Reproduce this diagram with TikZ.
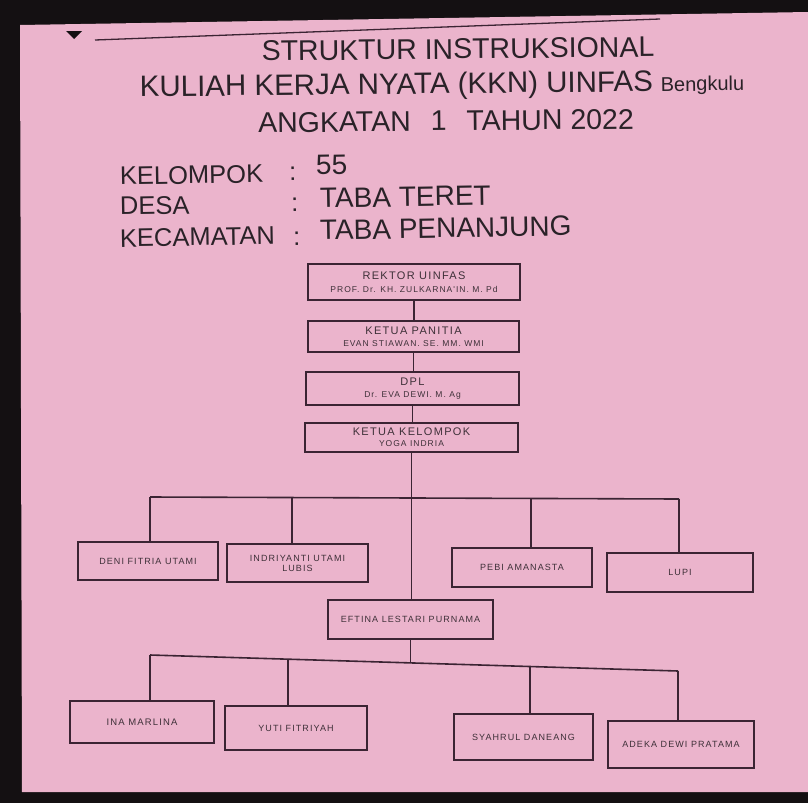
\documentclass[tikz,border=0pt]{standalone}
\usepackage{fontspec}
\setmainfont{Liberation Sans}
\newfontfamily\handfont[LetterSpace=12]{Liberation Sans}
\definecolor{paper}{HTML}{EBB4CC}
\definecolor{bgdark}{HTML}{141012}
\definecolor{linec}{HTML}{3B2433}
\definecolor{textc}{HTML}{3E3038}
\definecolor{titlec}{HTML}{2A2228}
\tikzset{
  orgbox/.style={draw=linec, line width=1.6pt, inner sep=0pt, align=center, text=textc},
  wire/.style={draw=linec, line width=1.6pt},
  headtext/.style={text=titlec, inner sep=0pt, font=\fontsize{28.5}{30}\selectfont},
  labeltext/.style={text=titlec, inner sep=0pt, font=\fontsize{25.5}{27}\selectfont},
  valuetext/.style={text=titlec, inner sep=0pt, font=\fontsize{28}{30}\selectfont},
}
\newcommand{\subl}[1]{{\fontsize{8.5}{10}\selectfont #1}}
\newcommand{\boxhead}[1]{{\handfont\fontsize{11}{13}\selectfont #1}}
\begin{document}
\begin{tikzpicture}[x=1pt,y=-1pt]
\useasboundingbox (0,0) rectangle (808,803);
\fill[bgdark] (0,0) rectangle (808,803);
\fill[paper] (20,25) -- (808,12) -- (808,792) -- (22,792) -- cycle;
\fill[bgdark] (66,31) -- (82,31) -- (74,39) -- cycle;
\coordinate (tl1) at (95,40);
\coordinate (tl2) at (660,19);
\draw[draw=linec, line width=1.3pt] (tl1) -- (tl2);

% titles
\node[headtext, rotate=0.6] (t1) at (458,49) {STRUKTUR INSTRUKSIONAL};
\node[headtext, rotate=0.6] (t2) at (442,86) {{\fontsize{29.5}{30}\selectfont KULIAH KERJA NYATA (KKN) UINFAS} {\fontsize{20}{20}\selectfont Bengkulu}};
\node[headtext, rotate=0.6] (t3) at (446,121) {ANGKATAN\hspace{0.7em}1\hspace{0.7em}TAHUN 2022};

% info block
\node[labeltext, anchor=base west, rotate=1] (l1) at (120,185) {KELOMPOK};
\node[labeltext, anchor=base west, rotate=1] (l2) at (120,215) {DESA};
\node[labeltext, anchor=base west, rotate=1] (l3) at (120,247) {KECAMATAN};
\node[labeltext, anchor=base, rotate=1] (c1) at (293,180) {:};
\node[labeltext, anchor=base, rotate=1] (c2) at (295,211) {:};
\node[labeltext, anchor=base, rotate=1] (c3) at (297,245) {:};
\node[valuetext, anchor=base west, rotate=1] (v1) at (316,175) {55};
\node[valuetext, anchor=base west, rotate=1] (v2) at (320,208) {TABA TERET};
\node[valuetext, anchor=base west, rotate=1] (v3) at (320,240) {TABA PENANJUNG};

% top chain
\node[orgbox, minimum width=212pt, minimum height=36pt] (rektor) at (414,282)
  {\boxhead{REKTOR UINFAS}\\[1pt]{\handfont\subl{PROF. Dr. KH. ZULKARNA'IN. M. Pd}}};
\node[orgbox, minimum width=211pt, minimum height=31pt] (panitia) at (413.5,336.5)
  {\boxhead{KETUA PANITIA}\\[0pt]{\handfont\subl{EVAN STIAWAN. SE. MM. WMI}}};
\node[orgbox, minimum width=213pt, minimum height=33pt] (dpl) at (412.5,388.5)
  {\boxhead{DPL}\\[0pt]{\handfont\subl{Dr. EVA DEWI. M. Ag}}};
\node[orgbox, minimum width=213pt, minimum height=29pt] (kk) at (411.5,437.5)
  {\boxhead{KETUA KELOMPOK}\\[-1pt]{\handfont\subl{YOGA INDRIA}}};

\draw[wire] (rektor.south) -- (rektor.south |- panitia.north);
\draw[wire] (panitia.south) -- (panitia.south |- dpl.north);
\draw[wire] (dpl.south) -- (dpl.south |- kk.north);

% members row 1
\node[orgbox, minimum width=140pt, minimum height=38pt, font=\handfont\fontsize{9}{10}\selectfont] (deni) at (148,561) {DENI FITRIA UTAMI};
\node[orgbox, minimum width=141pt, minimum height=38pt, font=\handfont\fontsize{9}{10}\selectfont] (indri) at (297.5,563) {INDRIYANTI UTAMI\\LUBIS};
\node[orgbox, minimum width=140pt, minimum height=39pt, font=\handfont\fontsize{9}{10}\selectfont] (pebi) at (522,567.5) {PEBI AMANASTA};
\node[orgbox, minimum width=146pt, minimum height=39pt, font=\handfont\fontsize{9}{10}\selectfont] (lupi) at (680,572.5) {LUPI};

% eftina
\node[orgbox, minimum width=165pt, minimum height=39pt, font=\handfont\fontsize{9}{10}\selectfont] (eftina) at (410.5,619.5) {EFTINA LESTARI PURNAMA};

% members row 2
\node[orgbox, minimum width=144pt, minimum height=42pt, font=\handfont\fontsize{9.5}{11}\selectfont] (ina) at (142,722) {INA MARLINA};
\node[orgbox, minimum width=142pt, minimum height=44pt, font=\handfont\fontsize{9}{10}\selectfont] (yuti) at (296,728) {YUTI FITRIYAH};
\node[orgbox, minimum width=139pt, minimum height=46pt, font=\handfont\fontsize{9}{10}\selectfont] (syahrul) at (523.5,737) {SYAHRUL DANEANG};
\node[orgbox, minimum width=146pt, minimum height=47pt, font=\handfont\fontsize{9}{10}\selectfont] (adeka) at (681,744.5) {ADEKA DEWI PRATAMA};

% bus 1
\coordinate (b1a) at (150,497);
\coordinate (b1b) at (292,497.5);
\coordinate (b1c) at (531,498.5);
\coordinate (b1d) at (679,499);
\draw[wire] (b1a) -- (b1d);
\draw[wire] (kk.south) -- (kk.south |- eftina.north);
\draw[wire] (b1a) -- (b1a |- deni.north);
\draw[wire] (b1b) -- (b1b |- indri.north);
\draw[wire] (b1c) -- (b1c |- pebi.north);
\draw[wire] (b1d) -- (b1d |- lupi.north);

% bus 2
\coordinate (b2a) at (150,655);
\coordinate (b2b) at (288,659.2);
\coordinate (b2m) at (410.5,662.9);
\coordinate (b2c) at (530,666.5);
\coordinate (b2d) at (678,671);
\draw[wire] (b2a) -- (b2d);
\draw[wire] (eftina.south) -- (b2m);
\draw[wire] (b2a) -- (b2a |- ina.north);
\draw[wire] (b2b) -- (b2b |- yuti.north);
\draw[wire] (b2c) -- (b2c |- syahrul.north);
\draw[wire] (b2d) -- (b2d |- adeka.north);
\end{tikzpicture}
\end{document}
